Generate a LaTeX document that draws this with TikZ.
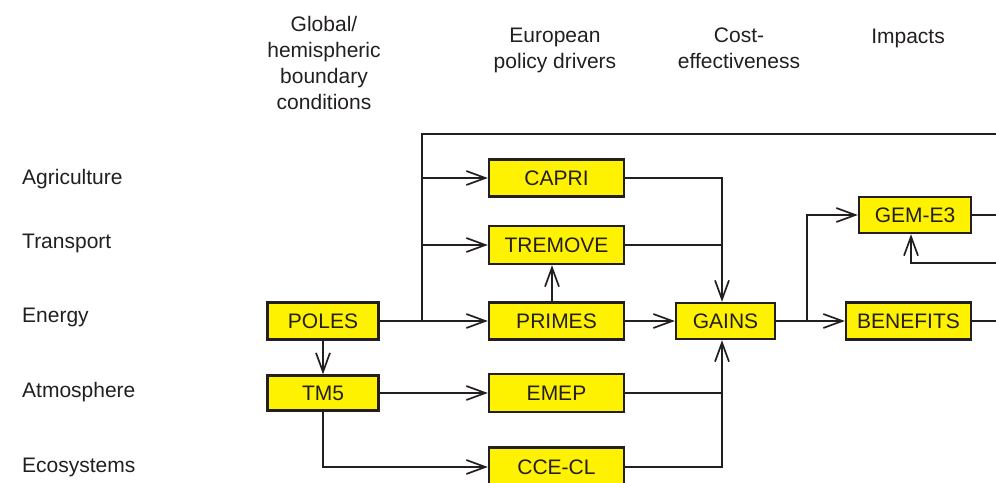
\documentclass[tikz,border=0pt]{standalone}
\usepackage{fontspec}
\setmainfont{Liberation Sans}
\usetikzlibrary{arrows.meta}
\definecolor{ink}{HTML}{231F20}
\definecolor{boxyellow}{HTML}{FFF200}
\begin{document}
\begin{tikzpicture}[x=1pt,y=-1pt,
  every node/.style={text=ink, font=\fontsize{21}{26}\selectfont},
  model/.style={draw=ink, fill=boxyellow, line width=2.4pt, inner sep=0pt, minimum height=37pt},
  rowlabel/.style={anchor=base west, inner sep=0pt},
  header/.style={anchor=base, align=center, inner sep=0pt},
  conn/.style={draw=ink, line width=1.7pt},
  arr/.style={conn, -{Straight Barb[length=19pt,width=14pt,line width=1.7pt]}}
]
\useasboundingbox (0,0) rectangle (996,482);

% headers (anchor = baseline of last line)
\node[header] (h1) at (324,109) {Global/\\hemispheric\\boundary\\conditions};
\node[header] (h2) at (555,68) {European\\policy drivers};
\node[header] (h3) at (739,68) {Cost-\\effectiveness};
\node[header] (h4) at (908,43) {Impacts};

% row labels
\node[rowlabel] (l1) at (22,184) {Agriculture};
\node[rowlabel] (l2) at (22,248) {Transport};
\node[rowlabel] (l3) at (22,322) {Energy};
\node[rowlabel] (l4) at (22,397) {Atmosphere};
\node[rowlabel] (l5) at (22,472) {Ecosystems};

% model boxes
\node[model, minimum width=111pt] (poles) at (323,321) {POLES};
\node[model, minimum width=111pt, minimum height=35pt] (tm5) at (323,393) {TM5};
\node[model, minimum width=135pt] (capri) at (556.5,178) {CAPRI};
\node[model, minimum width=135pt, minimum height=38pt] (tremove) at (556.5,245) {TREMOVE};
\node[model, minimum width=135pt] (primes) at (556.5,321) {PRIMES};
\node[model, minimum width=135pt, minimum height=38pt] (emep) at (556.5,393) {EMEP};
\node[model, minimum width=135pt, minimum height=39pt] (ccecl) at (556.5,467) {CCE-CL};
\node[model, minimum width=99pt, minimum height=36pt] (gains) at (725.5,321) {GAINS};
\node[model, minimum width=112pt, minimum height=36pt] (gem) at (915,215) {GEM-E3};
\node[model, minimum width=125pt] (benefits) at (908.5,321) {BENEFITS};

% junction coordinates
\coordinate (j1) at (422,321);
\coordinate (jtop) at (422,134);
\coordinate (topR) at (996,134);
\coordinate (jg) at (722,245);
\coordinate (jb) at (722,393);
\coordinate (j2) at (807,321);
\coordinate (gemR) at (996,215);
\coordinate (benR) at (996,321);
\coordinate (fbR) at (996,263);
\coordinate (fbX) at (911,263);

% connectors
\draw[arr] (poles.east) -- (primes.west);
\draw[conn] (j1) -- (jtop) -- (topR);
\draw[arr] (j1 |- capri) -- (capri.west);
\draw[arr] (j1 |- tremove) -- (tremove.west);
\draw[arr] ([xshift=-4.5pt]primes.north) -- ([xshift=-4.5pt]tremove.south);
\draw[arr] (capri.east) -| (jg |- gains.north);
\draw[conn] (tremove.east) -- (jg);
\draw[arr] (primes.east) -- (gains.west);
\draw[conn] (emep.east) -- (jb);
\draw[arr] (ccecl.east) -| (jb |- gains.south);
\draw[arr] (gains.east) -- (benefits.west);
\draw[arr] (j2) |- (gem.west);
\draw[conn] (gem.east) -- (gemR);
\draw[conn] (benefits.east) -- (benR);
\draw[arr] (fbR) -- (fbX) -- (fbX |- gem.south);
\draw[arr] (poles.south) -- (tm5.north);
\draw[arr] (tm5.east) -- (emep.west);
\draw[arr] (tm5.south) |- (ccecl.west);
\end{tikzpicture}
\end{document}
